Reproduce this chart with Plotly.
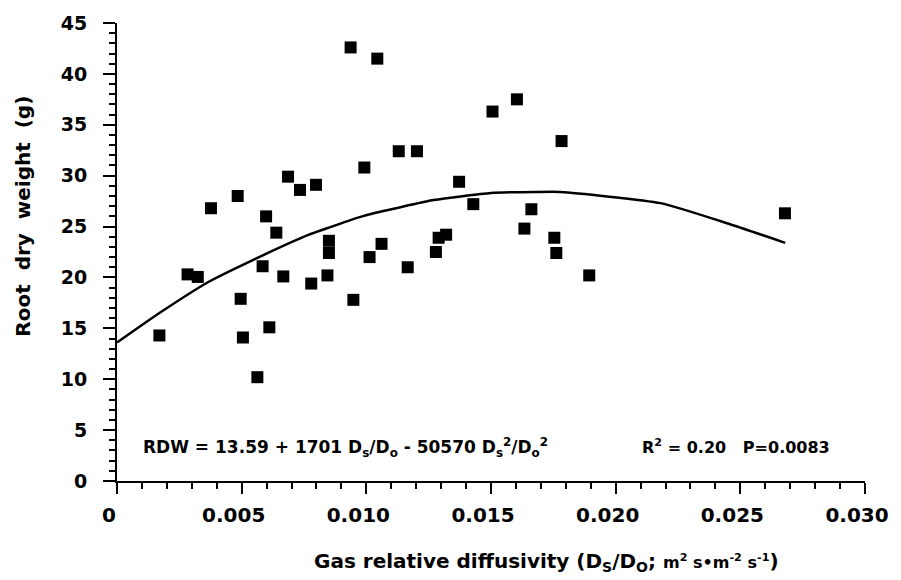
import plotly.graph_objects as go

# Observed data (gas relative diffusivity, root dry weight g)
diffusivity = [0.00170, 0.00283, 0.00324, 0.00377, 0.00484, 0.00496, 0.00505, 0.00563,
               0.00584, 0.00598, 0.00611, 0.00639, 0.00667, 0.00686, 0.00734, 0.00779,
               0.00798, 0.00844, 0.00850, 0.00850, 0.00937, 0.00948, 0.00992, 0.01013,
               0.01044, 0.01061, 0.01130, 0.01166, 0.01203, 0.01279, 0.01290, 0.01320,
               0.01372, 0.01429, 0.01506, 0.01604, 0.01634, 0.01662, 0.01754, 0.01762,
               0.01783, 0.01894, 0.02679]
root_dry_weight = [14.3, 20.3, 20.05, 26.8, 28.0, 17.9, 14.1, 10.2,
                   21.1, 26.0, 15.1, 24.4, 20.1, 29.9, 28.6, 19.4,
                   29.1, 20.2, 23.6, 22.4, 42.6, 17.8, 30.8, 22.0,
                   41.5, 23.3, 32.4, 21.0, 32.4, 22.5, 23.9, 24.2,
                   29.4, 27.2, 36.3, 37.5, 24.8, 26.7, 23.9, 22.4,
                   33.4, 20.2, 26.3]

# Fitted curve
curve_x = [0.0, 0.0017, 0.0037, 0.0057, 0.0077, 0.0085, 0.0097, 0.0103, 0.0127,
           0.0150, 0.0168, 0.0178, 0.0218, 0.0245, 0.0268]
curve_y = [13.6, 16.5, 19.6, 22.0, 24.2, 24.9, 25.9, 26.3, 27.6,
           28.3, 28.4, 28.4, 27.3, 25.3, 23.4]

x_tickvals = [0, 0.005, 0.010, 0.015, 0.020, 0.025, 0.030]
x_ticktext = ["0", "0.005", "0.010", "0.015", "0.020", "0.025", "0.030"]
y_tickvals = [0, 5, 10, 15, 20, 25, 30, 35, 40, 45]

FONT = "DejaVu Sans"

fig = go.Figure()
fig.add_trace(go.Scatter(x=curve_x, y=curve_y, mode="lines",
                         line=dict(color="black", width=2.5, shape="spline", smoothing=0.5),
                         showlegend=False, hoverinfo="skip"))
fig.add_trace(go.Scatter(x=diffusivity, y=root_dry_weight, mode="markers",
                         marker=dict(symbol="square", size=12, color="black"),
                         showlegend=False))

L, R, T, B = 117, 36, 20, 99
W, H = 901, 580
pw, ph = W - L - R, H - T - B

def px(xp):
    return (xp - L) / pw

def py(yp):
    return (H - B - yp) / ph

fig.update_layout(
    width=W, height=H,
    margin=dict(l=L, r=R, t=T, b=B),
    plot_bgcolor="white", paper_bgcolor="white",
    font=dict(family=FONT, color="black"),
    xaxis=dict(range=[0, 0.030], tickvals=x_tickvals, ticktext=x_ticktext,
               showline=True, linecolor="black", linewidth=2,
               ticks="outside", ticklen=11, tickwidth=2, tickcolor="black",
               showgrid=False, zeroline=False,
               tickfont=dict(family=FONT, size=20, color="black", weight="bold"),
               ticklabelstandoff=4, ticklabelshift=-8,
               minor=dict(dtick=0.001, ticks="outside", ticklen=6, tickwidth=1.5,
                          tickcolor="black", showgrid=False)),
    yaxis=dict(range=[0, 45], tickvals=y_tickvals,
               showline=True, linecolor="black", linewidth=2,
               ticks="outside", ticklen=12, tickwidth=2, tickcolor="black",
               showgrid=False, zeroline=False,
               tickfont=dict(family=FONT, size=19, color="black", weight="bold"),
               ticklabelstandoff=12,
               minor=dict(dtick=1, ticks="outside", ticklen=6, tickwidth=1.5,
                          tickcolor="black", showgrid=False)),
)

fig.add_annotation(
    text="Root  dry  weight  (g)", textangle=-90,
    xref="paper", yref="paper", x=px(23), y=py(215),
    xanchor="center", yanchor="middle", showarrow=False,
    font=dict(family=FONT, size=20, color="black", weight="bold"))

fig.add_annotation(
    text="Gas relative diffusivity (D<sub>S</sub>/D<sub>O</sub>; "
         "<span style='font-size:16px'>m<sup>2</sup> s•m<sup>-2</sup> s<sup>-1</sup></span>)",
    xref="paper", yref="paper", x=px(546), y=py(563),
    xanchor="center", yanchor="middle", showarrow=False,
    font=dict(family=FONT, size=20, color="black", weight="bold"))

fig.add_annotation(
    text="RDW = 13.59 + 1701 D<sub>s</sub>/D<sub>o</sub> - 50570 D<sub>s</sub><sup>2</sup>/D<sub>o</sub><sup>2</sup>",
    xref="paper", yref="paper", x=px(141), y=py(447),
    xanchor="left", yanchor="middle", showarrow=False,
    font=dict(family=FONT, size=17, color="black", weight="bold"))

fig.add_annotation(
    text="R<sup>2</sup> = 0.20   P=0.0083",
    xref="paper", yref="paper", x=px(640), y=py(446),
    xanchor="left", yanchor="middle", showarrow=False,
    font=dict(family=FONT, size=16, color="black", weight="bold"))

fig.write_html("out.html", config={"displayModeBar": False},
               post_script="document.body.style.margin='0';")
